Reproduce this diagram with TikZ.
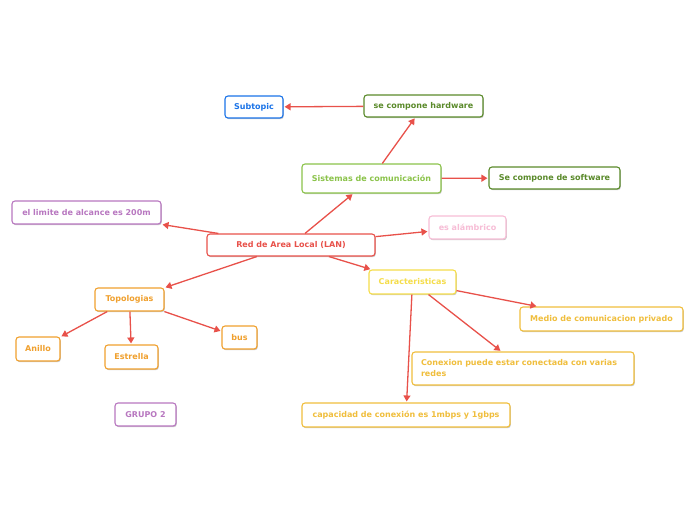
\documentclass[tikz,border=0pt]{standalone}
\usepackage{fontspec}
\setmainfont{DejaVu Sans}
\usetikzlibrary{arrows.meta,shadows}
\definecolor{edgec}{HTML}{E8514A}
\definecolor{cblue}{HTML}{1A73E8}
\definecolor{cdkgreen}{HTML}{5A8A2A}
\definecolor{cltgreen}{HTML}{8BC34A}
\definecolor{cpurple}{HTML}{B877C0}
\definecolor{cred}{HTML}{E8514A}
\definecolor{cpink}{HTML}{F7BDD6}
\definecolor{cyellow}{HTML}{F5DD4A}
\definecolor{corange}{HTML}{F0A02E}
\definecolor{cgold}{HTML}{F0BE3C}
\begin{document}
\begin{tikzpicture}[x=1pt,y=-1pt,
  box/.style={draw=#1,text=#1,fill=white,rounded corners=3pt,line width=1.1pt,
    font=\fontsize{8}{10}\selectfont\bfseries,inner sep=0pt,
    drop shadow={shadow xshift=0.8pt,shadow yshift=-1.2pt,opacity=0.3,fill=black!70}},
  conn/.style={draw=edgec,line width=1.3pt,-{Triangle[length=6pt,width=7pt]},shorten >=1pt}]
\useasboundingbox (0,0) rectangle (696,520);
\node[box=cblue,minimum width=58pt,minimum height=22pt] (sub) at (254,107) {Subtopic};
\node[box=cdkgreen,minimum width=119pt,minimum height=22pt] (hw) at (423.5,106) {se compone hardware};
\node[box=cltgreen,minimum width=139pt,minimum height=29pt] (sis) at (371.5,178.5) {Sistemas de comunicación};
\node[box=cdkgreen,minimum width=131pt,minimum height=22pt] (sw) at (554.5,178) {Se compone de software};
\node[box=cpurple,minimum width=149pt,minimum height=23pt] (lim) at (86.5,212.5) {el limite de alcance es 200m};
\node[box=cred,minimum width=168pt,minimum height=22pt] (lan) at (291,245) {Red de Area Local (LAN)};
\node[box=cpink,minimum width=77pt,minimum height=23pt] (ala) at (467.5,227.5) {es alámbrico};
\node[box=cyellow,minimum width=87pt,minimum height=24pt] (car) at (412.5,282) {Caracteristicas};
\node[box=corange,minimum width=69pt,minimum height=23pt] (top) at (129.5,299.5) {Topologias};
\node[box=corange,minimum width=44pt,minimum height=24pt] (ani) at (38,349) {Anillo};
\node[box=corange,minimum width=53pt,minimum height=24pt] (est) at (131.5,357) {Estrella};
\node[box=corange,minimum width=35pt,minimum height=23pt] (bus) at (239.5,337.5) {bus};
\node[box=cgold,minimum width=163pt,minimum height=24pt] (med) at (601.5,319) {Medio de comunicacion privado};
\node[box=cgold,text width=204pt,inner xsep=9pt,align=left,minimum height=33pt,font=\fontsize{8}{11}\selectfont\bfseries] (con) at (523,368.5) {Conexion puede estar conectada con varias\\redes};
\node[box=cgold,minimum width=208pt,minimum height=24pt] (cap) at (406,415) {capacidad de conexión es 1mbps y 1gbps};
\node[box=cpurple,minimum width=61pt,minimum height=23pt] (grp) at (145.5,414.5) {GRUPO 2};
\draw[conn] (lan) -- (sis);
\draw[conn] (sis) -- (hw);
\draw[conn] (hw) -- (sub);
\draw[conn] (sis) -- (sw);
\draw[conn] (lan) -- (lim);
\draw[conn] (lan) -- (ala);
\draw[conn] (lan) -- (car);
\draw[conn] (lan) -- (top);
\draw[conn] (top) -- (ani);
\draw[conn] (top) -- (est);
\draw[conn] (top) -- (bus);
\draw[conn] (car) -- (med);
\draw[conn] (car) -- (con);
\draw[conn] (car) -- (cap);
\end{tikzpicture}
\end{document}
